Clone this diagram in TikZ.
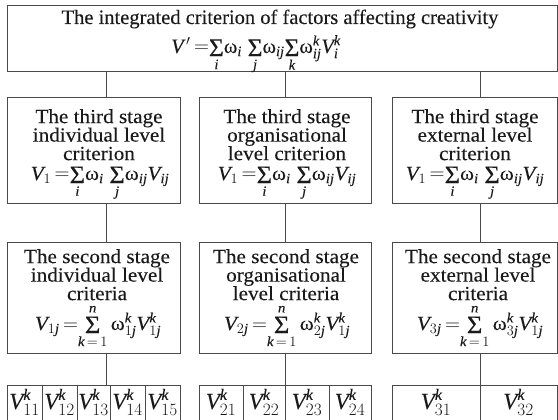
\documentclass[tikz,border=0pt]{standalone}
\usepackage{amsmath}
\usepackage{graphicx}
\usepackage{fontspec}
\setmainfont{Liberation Serif}[FakeBold=0.12]
\newfontfamily\boxfont{Liberation Serif}[FakeStretch=1.06,FakeBold=0.12]
\definecolor{linec}{HTML}{4A4A4A}
\definecolor{txtc}{HTML}{1A1A1A}
\newcommand\Vv{\text{\itshape V}}
\newcommand\om{\text{ω}}
\newcommand\ii{\text{\itshape i}}
\newcommand\jj{\text{\itshape j}}
\newcommand\kk{\text{\itshape k}}
\newcommand\nn{\text{\itshape n}}
\newcommand\eq{\,\mathord{=}}
\newcommand\Sm[2][]{\mathord{\mathop{\vcenter{\hbox{\scalebox{1.25}{Σ}}}}\limits_{#2}^{#1}}}
\tikzset{
  frame/.style={draw=linec, line width=0.9pt, rectangle, inner sep=0pt},
  wire/.style={draw=linec, line width=0.9pt},
  lbl/.style={text=txtc, align=center, inner sep=0pt, font=\boxfont\fontsize{20}{18.5}\selectfont},
  fml/.style={text=txtc, inner sep=0pt, anchor=base, font=\boxfont\fontsize{20}{22}\selectfont},
  cell/.style={frame, minimum height=40pt},
  celltxt/.style={text=txtc, inner sep=0pt, anchor=base, font=\fontsize{23}{26}\selectfont},
  ttl/.style={text=txtc, inner sep=0pt, anchor=base, font=\fontsize{20.5}{22}\selectfont},
}
\begin{document}
\begin{tikzpicture}[x=1pt,y=-1pt]
\useasboundingbox (0,0) rectangle (558,420);
\fill[white] (0,0) rectangle (558,420);
\clip (0,0) rectangle (558,420);
% top box
\node[frame, minimum width=550pt, minimum height=66pt] (top) at (282,38) {};
\node[ttl] (title) at (280,24) {The integrated criterion of factors affecting creativity};
\node[ttl] (topf) at (256,53) {$\Vv{}^{\,\prime}\eq\Sm{\ii}\om_{\ii}\;\Sm{\jj}\om_{\ii\jj}\Sm{\kk}\om^{\kk}_{\ii\jj}\Vv^{\kk}_{\ii}$};
% third stage
\node[frame, minimum width=173pt, minimum height=106pt] (t1) at (93.5,150) {};
\node[frame, minimum width=172pt, minimum height=106pt] (t2) at (285,150) {};
\node[frame, minimum width=165pt, minimum height=106pt] (t3) at (474.5,150) {};
\node[lbl, anchor=north] (t1x) at (99,109) {The third stage\\individual level\\criterion};
\node[lbl, anchor=north] (t2x) at (287,109) {The third stage\\organisational\\level criterion};
\node[lbl, anchor=north] (t3x) at (475,109) {The third stage\\external level\\criterion};
\node[fml] (t1f) at (100,180) {$\Vv_1\eq\Sm{\ii}\om_{\ii}\;\Sm{\jj}\om_{\ii\jj}\Vv_{\ii\jj}$};
\node[fml] (t2f) at (287,180) {$\Vv_1\eq\Sm{\ii}\om_{\ii}\;\Sm{\jj}\om_{\ii\jj}\Vv_{\ii\jj}$};
\node[fml] (t3f) at (475,180) {$\Vv_1\eq\Sm{\ii}\om_{\ii}\;\Sm{\jj}\om_{\ii\jj}\Vv_{\ii\jj}$};
% second stage
\node[frame, minimum width=173pt, minimum height=111pt] (s1) at (93.5,297.5) {};
\node[frame, minimum width=172pt, minimum height=111pt] (s2) at (285,297.5) {};
\node[frame, minimum width=165pt, minimum height=111pt] (s3) at (474.5,297.5) {};
\node[lbl, anchor=north] (s1x) at (97,249) {The second stage\\individual level\\criteria};
\node[lbl, anchor=north] (s2x) at (286,249) {The second stage\\organisational\\level criteria};
\node[lbl, anchor=north] (s3x) at (478,249) {The second stage\\external level\\criteria};
\node[fml] (s1f) at (98,330) {$\Vv_{1\jj}\eq\Sm[\nn]{\kk\,=\,1}\,\om^{\kk}_{1\jj}\Vv^{\kk}_{1\jj}$};
\node[fml] (s2f) at (287,330) {$\Vv_{2\jj}\eq\Sm[\nn]{\kk\,=\,1}\,\om^{\kk}_{2\jj}\Vv^{\kk}_{1\jj}$};
\node[fml] (s3f) at (480,330) {$\Vv_{3\jj}\eq\Sm[\nn]{\kk\,=\,1}\,\om^{\kk}_{3\jj}\Vv^{\kk}_{1\jj}$};
% bottom cells
\foreach \nm/\xa/\xb/\sub in {c11/7/42/11, c12/42/77/12, c13/77/110/13, c14/110/145/14, c15/145/180/15,
  c21/199/243/21, c22/243/285/22, c23/285/329/23, c24/329/371/24,
  c31/392/480/31, c32/480/557/32}{
  \node[cell, minimum width={\xb-\xa}] (\nm) at ({(\xa+\xb)/2},405) {};
  \node[celltxt] (\nm t) at ({(\xa+\xb)/2},409) {$\Vv^{\kk}_{\sub}$};
}
% connectors
\draw[wire] (top.south -| t1.north) ++(12.5,0) coordinate (a1) -- (a1 |- t1.north);
\draw[wire] (top.south -| t2.north) -- (t2.north);
\draw[wire] (top.south -| t3.north) ++(5.5,0) coordinate (a3) -- (a3 |- t3.north);
\draw[wire] (t1.south) ++(12.5,0) coordinate (b1) -- (b1 |- s1.north);
\draw[wire] (t2.south) -- (s2.north);
\draw[wire] (t3.south) ++(5.5,0) coordinate (b3) -- (b3 |- s3.north);
\draw[wire] (s1.south) ++(12.5,0) coordinate (d1) -- (d1 |- c13.north);
\draw[wire] (s2.south) -- (s2.south |- c23.north);
\draw[wire] (s3.south) ++(5.5,0) coordinate (d3) -- (d3 |- c32.north);
\end{tikzpicture}
\end{document}
